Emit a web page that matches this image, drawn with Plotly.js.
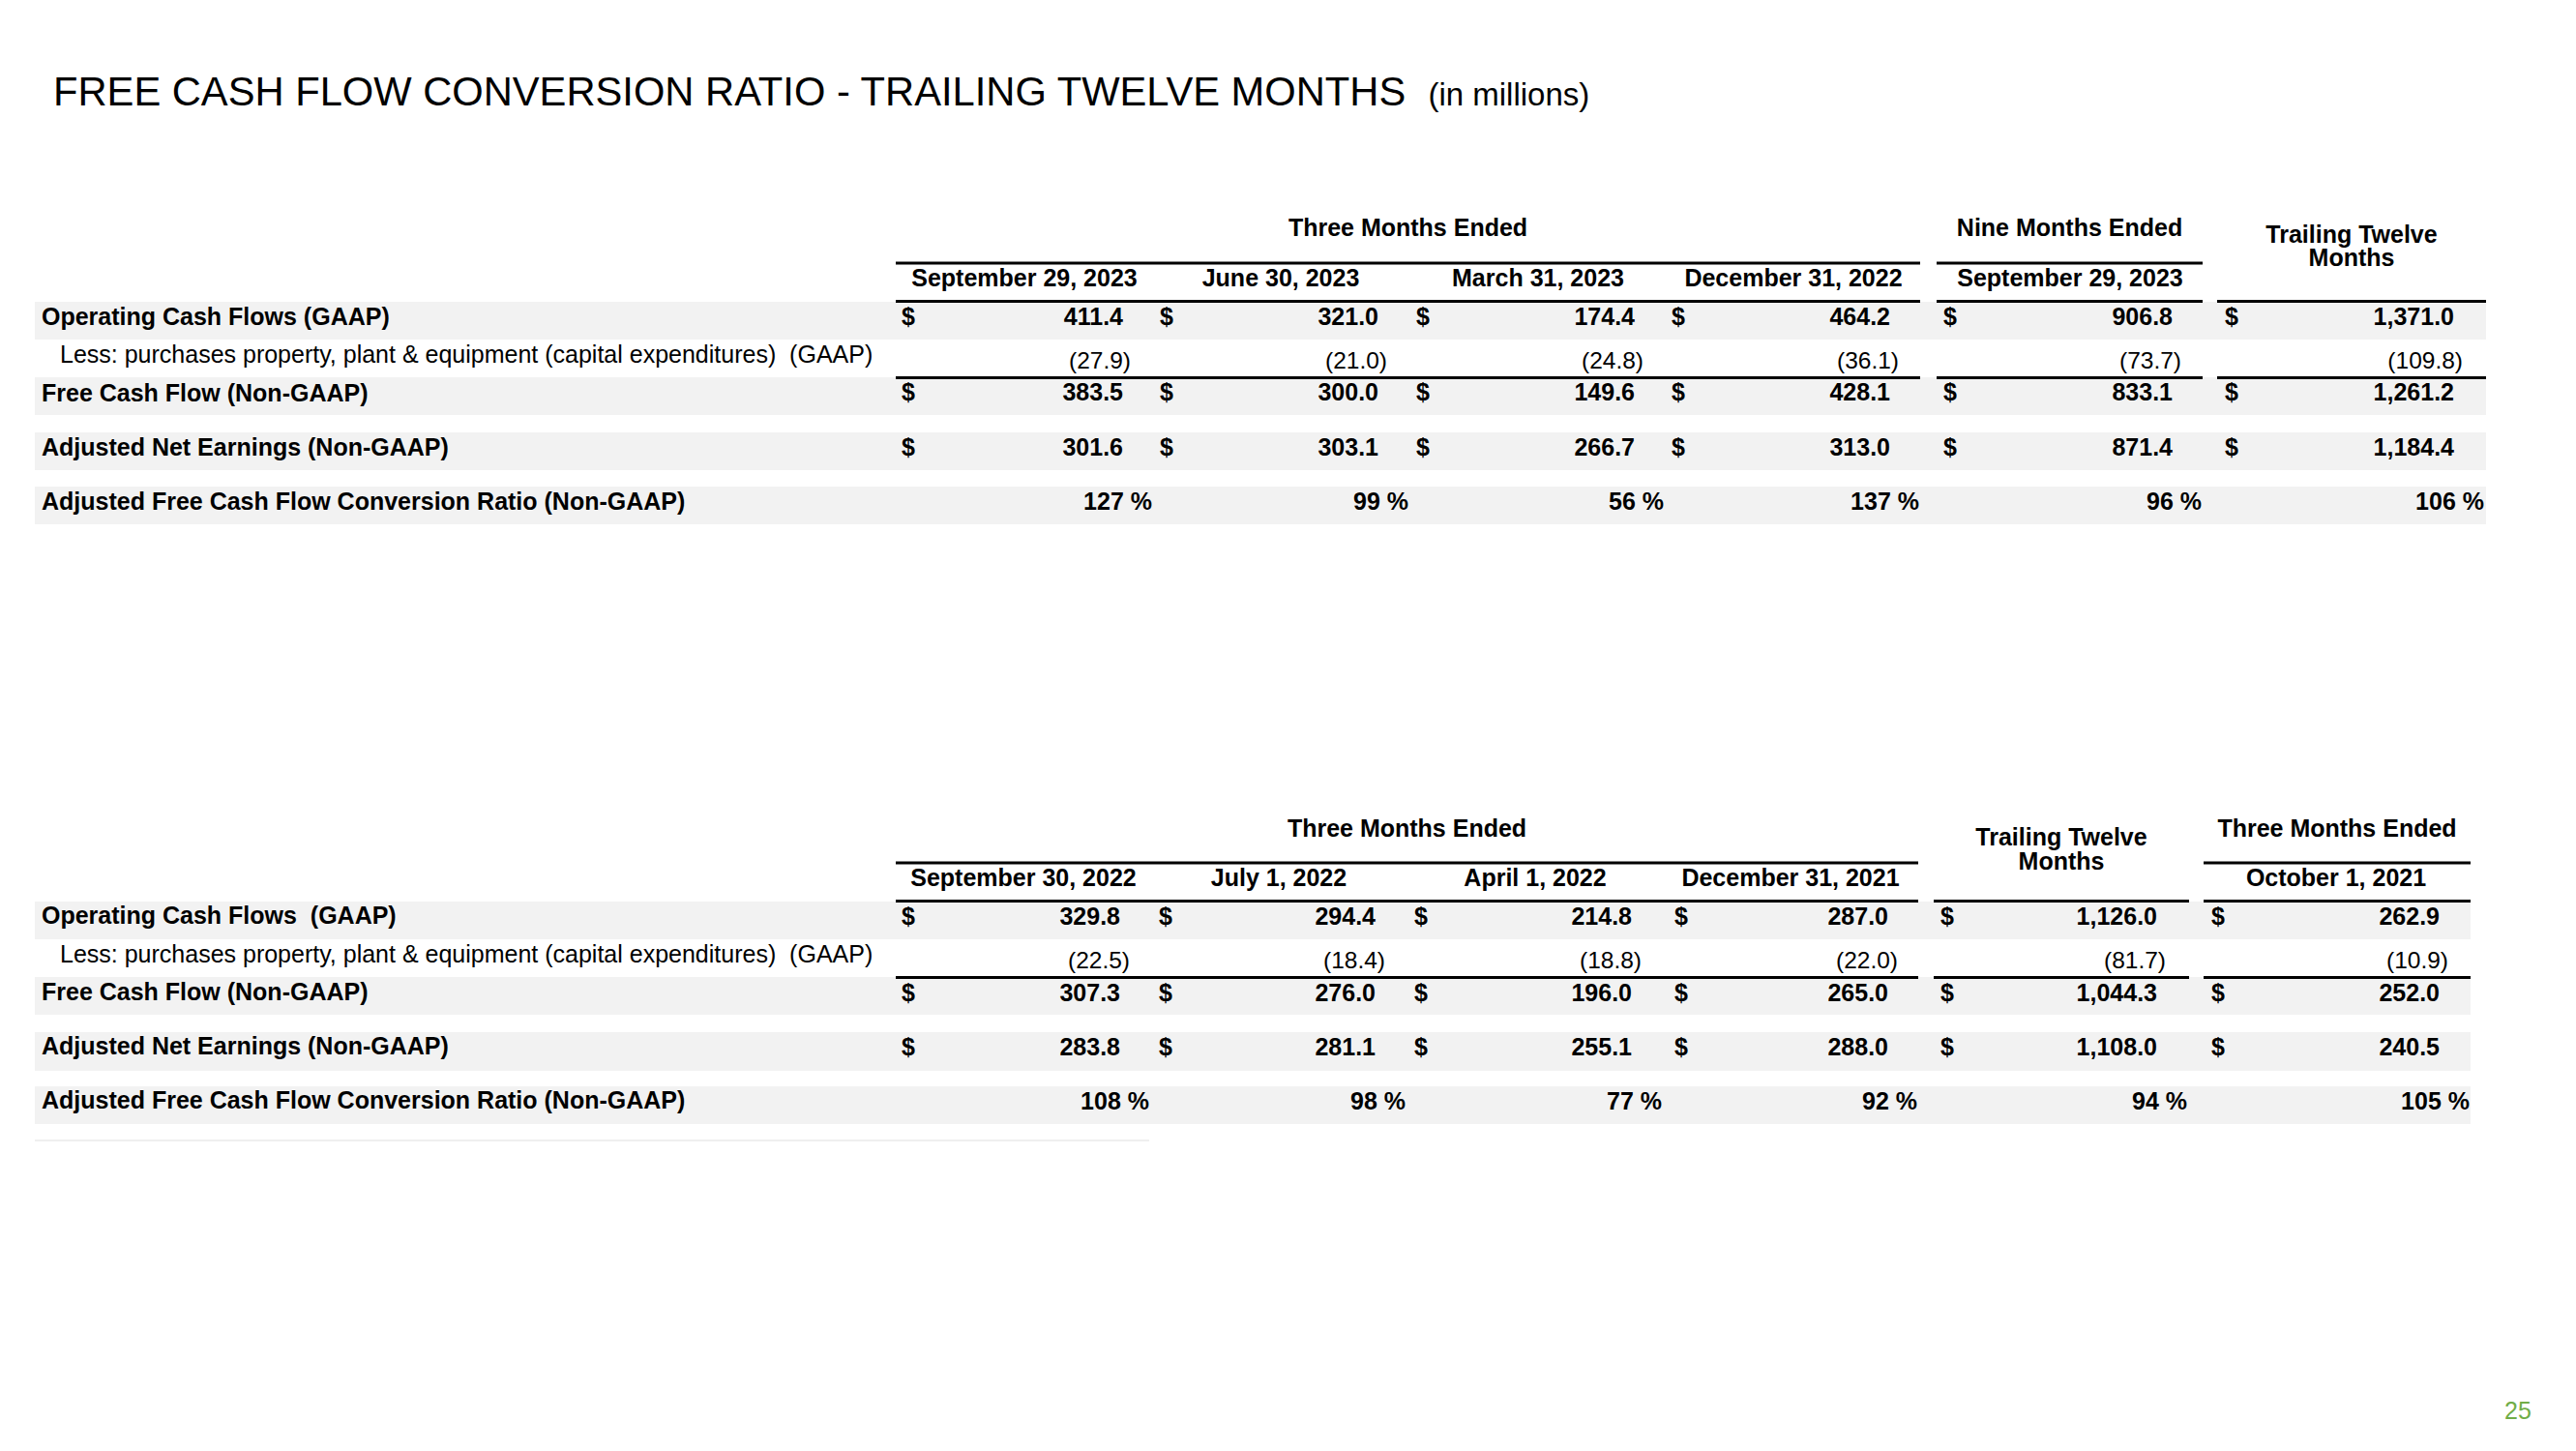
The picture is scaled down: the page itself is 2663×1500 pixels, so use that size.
<!DOCTYPE html>
<html>
<head>
<meta charset="utf-8">
<script src="https://cdn.plot.ly/plotly-3.0.1.min.js"></script>
<style>
html, body { margin: 0; padding: 0; background: #ffffff; }
#chart { width: 2663px; height: 1500px; }
</style>
</head>
<body>
<div id="chart"></div>
<script>
// ================= DATA =================
const titleMain = "FREE CASH FLOW CONVERSION RATIO - TRAILING TWELVE MONTHS";
const titleUnit = "(in millions)";
const pageNumber = "25";

const rowLabels1 = [
  "Operating Cash Flows (GAAP)",
  "Less: purchases property, plant & equipment (capital expenditures)  (GAAP)",
  "Free Cash Flow (Non-GAAP)",
  "Adjusted Net Earnings (Non-GAAP)",
  "Adjusted Free Cash Flow Conversion Ratio (Non-GAAP)"
];
const rowLabels2 = [
  "Operating Cash Flows  (GAAP)",
  "Less: purchases property, plant & equipment (capital expenditures)  (GAAP)",
  "Free Cash Flow (Non-GAAP)",
  "Adjusted Net Earnings (Non-GAAP)",
  "Adjusted Free Cash Flow Conversion Ratio (Non-GAAP)"
];

const groupHeaders1 = ["Three Months Ended", "Nine Months Ended"];
const periods1 = ["September 29, 2023", "June 30, 2023", "March 31, 2023", "December 31, 2022", "September 29, 2023", "Trailing Twelve\nMonths"];
const operatingCF1 = [411.4, 321.0, 174.4, 464.2, 906.8, 1371.0];
const capex1       = [-27.9, -21.0, -24.8, -36.1, -73.7, -109.8];
const freeCF1      = [383.5, 300.0, 149.6, 428.1, 833.1, 1261.2];
const adjNetEarn1  = [301.6, 303.1, 266.7, 313.0, 871.4, 1184.4];
const convRatio1   = [127, 99, 56, 137, 96, 106];

const groupHeaders2 = ["Three Months Ended", "Three Months Ended"];
const periods2 = ["September 30, 2022", "July 1, 2022", "April 1, 2022", "December 31, 2021", "Trailing Twelve\nMonths", "October 1, 2021"];
const operatingCF2 = [329.8, 294.4, 214.8, 287.0, 1126.0, 262.9];
const capex2       = [-22.5, -18.4, -18.8, -22.0, -81.7, -10.9];
const freeCF2      = [307.3, 276.0, 196.0, 265.0, 1044.3, 252.0];
const adjNetEarn2  = [283.8, 281.1, 255.1, 288.0, 1108.0, 240.5];
const convRatio2   = [108, 98, 77, 92, 94, 105];

// ================= LAYOUT CONSTANTS (positions / styles) =================
const FONT = "Liberation Sans, Arial, Helvetica, sans-serif";
const FS_BOLD = 25;
const FS_REG = 24.5;
const FS_SUBLABEL = 25;
const CAPC = 0.045;          // offset from visual centre to text anchor (em)
const BAND = "#f2f2f2";

const geo1 = {
  dollarX: [932, 1199, 1464, 1728, 2009, 2300],
  valueR:  [1161, 1425, 1690, 1954, 2246, 2537],
  parenR:  [1169, 1434, 1699, 1963, 2255, 2546],
  pctR:    [1191, 1456, 1720, 1984, 2276, 2568],
  headX:   [1059, 1324, 1590, 1854, 2140, 2431],
  headY:   288.5,
  groupX:  [1455.5, 2139.5],
  groupY:  236.5,
  ttmCol:  5,
  ttmY:    [243.5, 268],
  segs:    [[926, 1985], [2002, 2277], [2292, 2570]],
  topSegs: [0, 1],
  topRuleY: 272, headRuleY: 311.5, sumRuleY: 390.5,
  bandX:   [36, 2570],
  bands:   [[312, 351], [390, 429], [447, 486], [503, 542]],
  labelY:  [329, 368, 408, 464, 520],
  valueY:  [328.5, 374, 407, 464, 520]
};
const geo2 = {
  dollarX: [932, 1198, 1462, 1731, 2006, 2286],
  valueR:  [1158, 1422, 1687, 1952, 2230, 2522],
  parenR:  [1168, 1432, 1697, 1962, 2239, 2531],
  pctR:    [1188, 1453, 1718, 1982, 2261, 2553],
  headX:   [1058, 1322, 1587, 1851, 2131, 2415],
  headY:   909,
  groupX:  [1454.5, 2416],
  groupY:  858,
  ttmCol:  4,
  ttmY:    [867, 892],
  segs:    [[926, 1983], [1999, 2263], [2278, 2554]],
  topSegs: [0, 2],
  topRuleY: 892, headRuleY: 931.5, sumRuleY: 1010.5,
  bandX:   [36, 2554],
  bands:   [[932, 971], [1010, 1049], [1067, 1107], [1123, 1162]],
  labelY:  [948, 988, 1027, 1083, 1139],
  valueY:  [948.5, 994, 1028, 1084, 1140]
};
const LABEL_X = 43, SUBLABEL_X = 62;

// ================= BUILD =================
const traces = [];
const shapes = [];

function fmtNum(v) {
  const s = Math.abs(v).toLocaleString("en-US", {minimumFractionDigits: 1, maximumFractionDigits: 1});
  return v < 0 ? "(" + s + ")" : s;
}
function textTrace(xs, ys, texts, pos, bold, size, color) {
  const fs = size || (bold ? FS_BOLD : FS_REG);
  traces.push({
    type: "scatter", mode: "text",
    x: xs, y: ys.map(y => y + CAPC * fs), text: texts,
    textposition: pos,
    textfont: {family: FONT, size: fs, color: color || "#000000", weight: bold ? "bold" : "normal"},
    hoverinfo: "skip", cliponaxis: false, showlegend: false
  });
}
function hline(x0, x1, y, w, c) {
  shapes.push({type: "line", xref: "x", yref: "y", x0: x0, x1: x1, y0: y, y1: y,
               line: {color: c || "#000000", width: w || 3}, layer: "above"});
}

function buildTable(g, labels, groups, periods, ocf, capex, fcf, ane, ratio) {
  // row bands
  g.bands.forEach(b => shapes.push({type: "rect", xref: "x", yref: "y",
    x0: g.bandX[0], x1: g.bandX[1], y0: b[0], y1: b[1],
    fillcolor: BAND, line: {width: 0}, layer: "below"}));
  // rules
  g.topSegs.forEach(i => hline(g.segs[i][0], g.segs[i][1], g.topRuleY));
  g.segs.forEach(s => { hline(s[0], s[1], g.headRuleY); hline(s[0], s[1], g.sumRuleY); });

  // group headers
  textTrace(g.groupX, g.groupX.map(() => g.groupY), groups, "middle center", true);
  // period headers
  const hx = [], hy = [], ht = [];
  periods.forEach((p, i) => {
    const parts = p.split("\n");
    if (parts.length > 1) {
      parts.forEach((t, k) => { hx.push(g.headX[i]); hy.push(g.ttmY[k]); ht.push(t); });
    } else { hx.push(g.headX[i]); hy.push(g.headY); ht.push(p); }
  });
  textTrace(hx, hy, ht, "middle center", true);

  // row labels
  textTrace([LABEL_X, LABEL_X, LABEL_X, LABEL_X], [0, 2, 3, 4].map(i => g.labelY[i]),
            [0, 2, 3, 4].map(i => labels[i]), "middle right", true);
  textTrace([SUBLABEL_X], [g.labelY[1]], [labels[1]], "middle right", false, FS_SUBLABEL);

  // dollar signs (rows 0, 2, 3)
  const dx = [], dy = [], dt = [];
  [0, 2, 3].forEach(r => g.dollarX.forEach(x => { dx.push(x); dy.push(g.valueY[r]); dt.push("$"); }));
  textTrace(dx, dy, dt, "middle right", true);

  // bold money rows
  const bx = [], by = [], bt = [];
  [[ocf, 0], [fcf, 2], [ane, 3]].forEach(([arr, r]) => arr.forEach((v, i) => {
    bx.push(v < 0 ? g.parenR[i] : g.valueR[i]); by.push(g.valueY[r]); bt.push(fmtNum(v));
  }));
  textTrace(bx, by, bt, "middle left", true);

  // capex row (regular)
  textTrace(capex.map((v, i) => v < 0 ? g.parenR[i] : g.valueR[i]),
            capex.map(() => g.valueY[1]), capex.map(fmtNum), "middle left", false);

  // ratio row
  textTrace(ratio.map((v, i) => g.pctR[i]), ratio.map(() => g.valueY[4]),
            ratio.map(v => v + " %"), "middle left", true);
}

buildTable(geo1, rowLabels1, groupHeaders1, periods1, operatingCF1, capex1, freeCF1, adjNetEarn1, convRatio1);
buildTable(geo2, rowLabels2, groupHeaders2, periods2, operatingCF2, capex2, freeCF2, adjNetEarn2, convRatio2);

// faint rule under second table
hline(36, 1188, 1179, 2, "#efefef");

// page number
textTrace([2603], [1460], [pageNumber], "middle center", false, 25, "#70AD47");

const layout = {
  width: 2663, height: 1500,
  margin: {l: 0, r: 0, t: 0, b: 0, pad: 0},
  paper_bgcolor: "#ffffff", plot_bgcolor: "#ffffff",
  showlegend: false,
  hovermode: false,
  title: {
    text: titleMain + "  <span style=\"font-size:33px\">" + titleUnit + "</span>",
    font: {family: FONT, size: 41.7, color: "#000000"},
    xref: "container", x: 55 / 2663, xanchor: "left",
    yref: "container", y: 1 - 94.5 / 1500, yanchor: "middle"
  },
  xaxis: {range: [0, 2663], visible: false, fixedrange: true},
  yaxis: {range: [1500, 0], visible: false, fixedrange: true},
  shapes: shapes
};

Plotly.newPlot("chart", traces, layout, {staticPlot: true, displayModeBar: false});
</script>
</body>
</html>
